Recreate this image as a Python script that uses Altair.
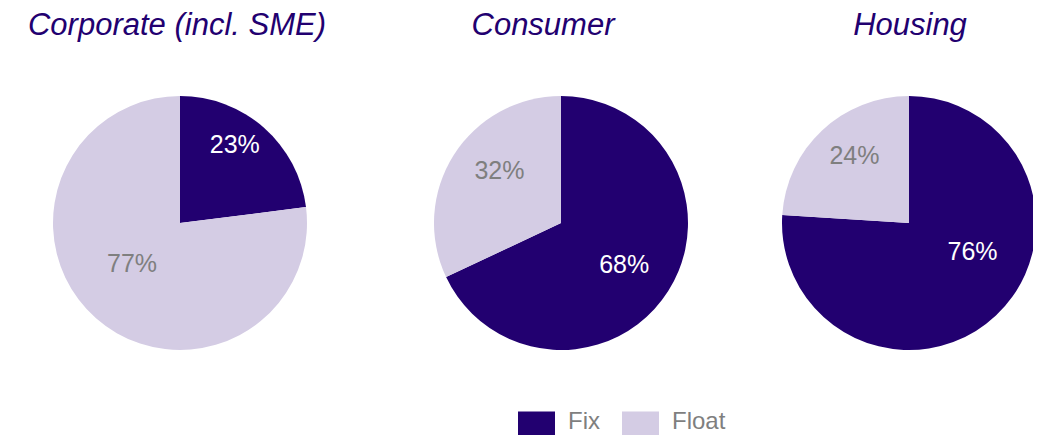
import altair as alt
import pandas as pd

# ---- data ----
segments = ["Corporate (incl. SME)", "Consumer", "Housing"]
types = ["Fix", "Float"]
fix_pct = [23, 68, 76]
float_pct = [77, 32, 24]

rows = []
for s, f, fl in zip(segments, fix_pct, float_pct):
    rows.append({"segment": s, "type": "Fix", "value": f, "label": f"{f}%"})
    rows.append({"segment": s, "type": "Float", "value": fl, "label": f"{fl}%"})
df = pd.DataFrame(rows)
titles_df = pd.DataFrame({"segment": segments})

# ---- styling / layout ----
DARK = "#220070"
LIGHT = "#D4CCE4"
GREY = "#7F7F7F"
FONT = "Liberation Sans"
CY = 215
RADIUS = 127
pie_x = {"Corporate (incl. SME)": 172, "Consumer": 553, "Housing": 901}
title_x = {"Corporate (incl. SME)": 169, "Consumer": 535, "Housing": 902}
# label placement per pie: type -> (radius, dx, dy)
label_pos = {
    "Corporate (incl. SME)": {"Fix": (95, -8, -7), "Float": (62, -7, -6)},
    "Consumer": {"Fix": (76, -1, 1), "Float": (80, 6, -9)},
    "Housing": {"Fix": (65, 19, -18), "Float": (87, 5, -4)},
}
label_color = {"Fix": "white", "Float": GREY}

color = alt.Color(
    "type:N",
    scale=alt.Scale(domain=types, range=[DARK, LIGHT]),
    legend=alt.Legend(
        title=None, orient="none", legendX=510, legendY=395,
        direction="horizontal",
        symbolType="M-1,-0.55H1V1.1H-1Z", symbolSize=1369,
        symbolStrokeWidth=0, symbolOpacity=1,
        labelFontSize=24, labelColor=GREY, labelFont=FONT,
        labelOffset=13, columnPadding=22, padding=0,
    ),
)

layers = []
for seg in segments:
    cx = pie_x[seg]
    base = alt.Chart(df).transform_filter(alt.datum.segment == seg)
    arc = base.mark_arc(radius=RADIUS).encode(
        theta=alt.Theta("value:Q", stack=True),
        color=color,
        order=alt.Order("type:N", sort="ascending"),
        x=alt.value(cx),
        y=alt.value(CY),
    )
    layers.append(arc)
    for t in types:
        r, dx, dy = label_pos[seg][t]
        txt = base.mark_text(
            radius=r, dx=dx, dy=dy, fontSize=25, font=FONT,
            color=label_color[t], align="center", baseline="middle",
        ).encode(
            theta=alt.Theta("value:Q", stack=True),
            detail="type:N",
            order=alt.Order("type:N", sort="ascending"),
            text=alt.condition(alt.datum.type == t, alt.Text("label:N"), alt.value("")),
            x=alt.value(cx),
            y=alt.value(CY),
        )
        layers.append(txt)
    title = alt.Chart(titles_df).transform_filter(alt.datum.segment == seg).mark_text(
        fontSize=31, font=FONT, fontStyle="italic", color=DARK,
        align="center", baseline="alphabetic",
    ).encode(
        text="segment:N",
        x=alt.value(title_x[seg]),
        y=alt.value(27),
    )
    layers.append(title)

chart = alt.layer(*layers).properties(
    width=1025, height=427, autosize="none", padding=0
).configure_view(stroke=None)

chart.save("out.html", embed_options={"renderer": "svg", "actions": False})
